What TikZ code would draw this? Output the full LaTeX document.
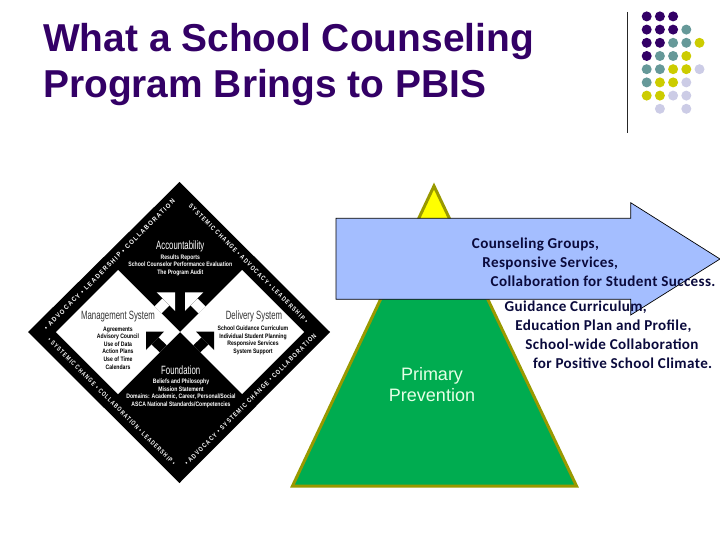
\documentclass[tikz,border=0pt]{standalone}
\usepackage{fontspec}
\setmainfont{Liberation Sans}
\newfontfamily\headfont[FakeStretch=0.65]{Liberation Sans}
\newfontfamily\bodyfont[FakeStretch=0.8]{Liberation Sans Bold}
\newfontfamily\bandfont[LetterSpace=22,FakeStretch=0.95]{Liberation Sans Bold}
\newfontfamily\noteFont[LetterSpace=2.5]{Carlito Bold}
\definecolor{titlePurple}{HTML}{330066}
\definecolor{dotTeal}{HTML}{669999}
\definecolor{dotYellow}{HTML}{CCCC00}
\definecolor{dotLav}{HTML}{CCCCE6}
\definecolor{pyrGreen}{HTML}{00AC50}
\definecolor{pyrEdge}{HTML}{999900}
\definecolor{pyrTop}{HTML}{FFFF00}
\definecolor{arrowBlue}{HTML}{A4BEFF}
\definecolor{noteInk}{HTML}{0A0A3C}
\definecolor{primInk}{HTML}{E6FFE6}

\begin{document}
\begin{tikzpicture}[x=1pt,y=-1pt]
  \tikzset{
    every node/.style={inner sep=0pt},
    titleline/.style={anchor=base west,font=\bfseries\fontsize{38.9}{46}\selectfont,text=titlePurple},
    head/.style={font=\headfont\fontsize{12}{12}\selectfont},
    body/.style={align=center,font=\bodyfont\fontsize{6.4}{7.65}\selectfont},
    band/.style={text=white,font=\bandfont\fontsize{6.6}{7}\selectfont},
    note/.style={anchor=west,align=left,text=noteInk,font=\noteFont\fontsize{15.1}{19}\selectfont},
  }
  \useasboundingbox (0,0) rectangle (720,540);

  \node[titleline] (line1) at (43,51.7) {What a School Counseling};
  \node[titleline] (line2) at (43,98) {Program Brings to PBIS};

  \draw[black!85,line width=1pt] (627.5,12) -- (627.5,133);
  \foreach \c/\r/\k in {1/1/titlePurple,2/1/titlePurple,3/1/titlePurple,
    1/2/titlePurple,2/2/titlePurple,3/2/titlePurple,4/2/dotTeal,
    1/3/titlePurple,2/3/titlePurple,3/3/dotTeal,4/3/dotTeal,5/3/dotYellow,
    1/4/titlePurple,2/4/dotTeal,3/4/dotTeal,4/4/dotYellow,
    1/5/dotTeal,2/5/dotTeal,3/5/dotYellow,4/5/dotYellow,5/5/dotLav,
    1/6/dotTeal,2/6/dotYellow,3/6/dotYellow,4/6/dotLav,
    1/7/dotYellow,2/7/dotYellow,3/7/dotLav,4/7/dotLav,
    2/8/dotLav,4/8/dotLav}
    \fill[\k] ({633.5+13.2*\c},{3.2+13.2*\r}) circle (5);

  % diamond
  \fill (179.5,182) -- (330,332) -- (179.5,483) -- (28,332) -- cycle;
  \fill[white] (56,332) -- (118,270) -- (180,332) -- (118,394) -- cycle;
  \fill[white] (304,332) -- (242,270) -- (180,332) -- (242,394) -- cycle;
  \fill[white] (175,292.3) -- (156.7,292.3) -- (175,311) -- cycle;
  \fill[white] (185,292.3) -- (203.3,292.3) -- (185,311) -- cycle;
  \fill[white] (162.3,298.5) -- (169.3,305.5) -- (161.4,313.4) -- (154.4,306.4) -- cycle;
  \fill[white] (197.7,298.5) -- (190.7,305.5) -- (198.6,313.4) -- (205.6,306.4) -- cycle;
  \fill (146,331.7) -- (164,331.7) -- (146,350) -- cycle;
  \fill (214,331.7) -- (196,331.7) -- (214,350) -- cycle;
  \fill (158.5,337.3) -- (151.5,344.3) -- (159.7,352.4) -- (166.7,345.4) -- cycle;
  \fill (201.5,337.3) -- (208.5,344.3) -- (200.3,352.4) -- (193.3,345.4) -- cycle;

  \node[band,rotate=45,xscale=.935] (bandUL) at (109.5,264.5) {• ADVOCACY • LEADERSHIP • COLLABORATION};
  \node[band,rotate=-45,xscale=.82] (bandUR) at (248.5,263.5) {SYSTEMIC CHANGE • ADVOCACY • LEADERSHIP •};
  \node[band,rotate=-45,xscale=.76] (bandLL) at (111.7,401.7) {• SYSTEMIC CHANGE • COLLABORATION • LEADERSHIP •};
  \node[band,rotate=45,xscale=.83] (bandLR) at (250.5,399.5) {• ADVOCACY • SYSTEMIC CHANGE • COLLABORATION};

  \node[head,text=white] (acct) at (180.3,246) {Accountability};
  \node[body,text=white] (acctBody) at (180.3,265.3) {Results Reports\\School Counselor Performance Evaluation\\The Program Audit};
  \node[head,text=black!80] (mgmt) at (118,316.7) {Management System};
  \node[body,text=black] (mgmtBody) at (118,348) {Agreements\\Advisory Council\\Use of Data\\Action Plans\\Use of Time\\Calendars};
  \node[head,text=black!80] (deliv) at (254,316.7) {Delivery System};
  \node[body,text=black] (delivBody) at (253,340.2) {School Guidance Curriculum\\Individual Student Planning\\Responsive Services\\System Support};
  \node[head,text=white] (found) at (180.7,370) {Foundation};
  \node[body,text=white] (foundBody) at (181,393.5) {Beliefs and Philosophy\\Mission Statement\\Domains: Academic, Career, Personal/Social\\ASCA National Standards/Competencies};

  % pyramid
  \fill[pyrGreen] (292.5,486) -- (576.5,486) -- (434,186) -- cycle;
  \fill[pyrTop] (434,186) -- (410,237) -- (458,237) -- cycle;
  \draw[pyrEdge,line width=3pt] (292.5,486) -- (576.5,486) -- (434,186) -- cycle;
  \node[align=center,text=primInk,font=\fontsize{18}{21}\selectfont] (prim) at (432,385) {Primary\\Prevention};

  \draw[fill=arrowBlue,line width=.7pt] (336,218.3) -- (630.7,218.3) -- (630.7,202.7) -- (720,259)
    -- (630.7,315) -- (630.7,299.3) -- (336,299.3) -- cycle;
  \node[note] (counsel) at (471.7,262) {Counseling Groups,\\\hspace*{10.5pt}Responsive Services,\\\hspace*{18.8pt}Collaboration for Student Success.};
  \node[note] (guide) at (504.5,334.5) {Guidance Curriculum,\\\hspace*{10.7pt}Education Plan and Profile,\\\hspace*{20.7pt}School-wide Collaboration\\\hspace*{28.3pt}for Positive School Climate.};
\end{tikzpicture}
\end{document}
